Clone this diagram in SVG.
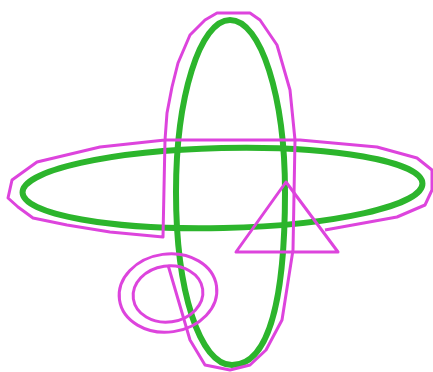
<svg xmlns="http://www.w3.org/2000/svg" width="433" height="372" viewBox="0 0 433 372">
<style>
.g{fill:none;stroke:#2cb52c;stroke-width:6}
.m{fill:none;stroke:#dd44dd;stroke-width:3;stroke-linejoin:round}
</style>
<rect width="433" height="372" fill="#fff"/>
<g id="vertical-ellipse">
<path class="g" d="M176,192 C176,97 200,20 230,20 C261,20 285,97 285,192 C285,296 270,365 232,365 C200,365 176,292 176,192 Z"/>
</g>
<g id="horizontal-ellipse">
<ellipse class="g" cx="222.5" cy="188" rx="200" ry="40" transform="rotate(-1.3 222.5 188)"/>
</g>
<g id="outline">
<path class="m" d="M325,230 L397,217 L425,205 L432,190 L432,170 L417,158 L377,147 L300,140 L165,140 L100,147 L37,162 L12,180 L8,198 L18,207 L33,218 L67,225 L110,232 L163,237 L165,140 L167,113 L172,87 L178,63 L190,35 L205,20 L217,13 L250,13 L260,20 L277,45 L290,90 L295,140 L293,250 L282,320 L266,350 L250,365 L230,370 L205,365 L190,340 L168,265"/>
</g>
<g id="triangle">
<polygon class="m" points="286,182 236,252 338,252"/>
</g>
<g id="rings">
<ellipse class="m" cx="168" cy="293" rx="49" ry="39" transform="rotate(-8 168 293)"/>
<ellipse class="m" cx="168" cy="294" rx="35" ry="28" transform="rotate(-8 168 294)"/>
</g>
</svg>
